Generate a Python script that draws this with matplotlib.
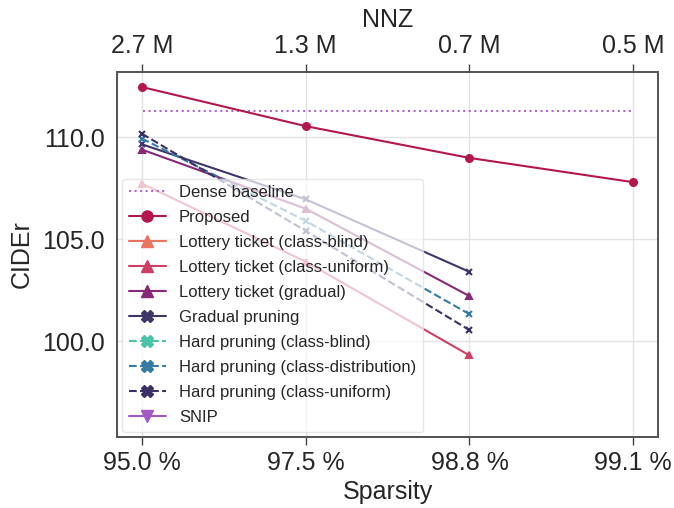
import numpy as np
import matplotlib
matplotlib.use("Agg")
import matplotlib.pyplot as plt
import seaborn as sns
from matplotlib.lines import Line2D

# data
sparsity = ["95.0 %", "97.5 %", "98.8 %", "99.1 %"]
nnz      = ["2.7 M", "1.3 M", "0.7 M", "0.5 M"]

dense_baseline = 111.27
proposed       = [112.47, 110.55, 108.99, 107.8]
lt_blind       = []
lt_uniform     = [107.73, 103.9, 99.30]
lt_gradual     = [109.40, 106.50, 102.21]
gradual        = [109.66, 106.96, 103.40]
hard_blind     = []
hard_dist      = [109.94, 105.90, 101.32]
hard_uniform   = [110.18, 105.41, 100.54]
snip           = []

# name, values, color, linestyle, plot marker, legend marker
series = [
    ("Proposed",                          proposed,     "#b3174b", "-",  "o", "o"),
    ("Lottery ticket (class-blind)",      lt_blind,     "#ea7460", "-",  "^", "^"),
    ("Lottery ticket (class-uniform)",    lt_uniform,   "#cf3e63", "-",  "^", "^"),
    ("Lottery ticket (gradual)",          lt_gradual,   "#862a76", "-",  "^", "^"),
    ("Gradual pruning",                   gradual,      "#3e356b", "-",  "x", "X"),
    ("Hard pruning (class-blind)",        hard_blind,   "#4cc3a8", "--", "x", "X"),
    ("Hard pruning (class-distribution)", hard_dist,    "#357ba3", "--", "x", "X"),
    ("Hard pruning (class-uniform)",      hard_uniform, "#3b2f66", "--", "x", "X"),
    ("SNIP",                              snip,         "#a35bc2", "-",  "v", "v"),
]

sns.set_theme(style="whitegrid")
plt.rcParams['font.family'] = ['Liberation Sans', 'DejaVu Sans']

fig = plt.figure(figsize=(6.74, 5.08), dpi=100)
ax  = fig.add_axes([0.174, 0.140, 0.802, 0.718])

ax.axhline(dense_baseline, xmin=0.047, xmax=0.953, color="#b366cc", ls=":", lw=1.5)
handles = [Line2D([], [], color="#b366cc", ls=":", lw=1.5, label="Dense baseline")]
for name, vals, col, ls, mk, lmk in series:
    if len(vals):
        ax.plot(np.arange(len(vals)), vals, color=col, ls=ls, lw=1.5,
                marker=mk, ms=5, mew=1.5)
    handles.append(Line2D([], [], color=col, ls=ls, lw=1.5, marker=lmk,
                          ms=8, label=name))

ax.set_xlim(-0.15, 3.15)
ax.set_ylim(95.3, 113.2)
ax.set_xticks(range(4))
ax.set_xticklabels(sparsity)
ax.set_yticks([100, 105, 110])
ax.set_yticklabels(["100.0", "105.0", "110.0"])
ax.tick_params(axis="x", labelsize=18, length=6, width=1, color="#444444",
               bottom=True, labelcolor="#262626", pad=4)
ax.tick_params(axis="y", labelsize=18, left=False, length=0,
               labelcolor="#262626", pad=9)
ax.set_xlabel("Sparsity", fontsize=18, labelpad=4)
ax.set_ylabel("CIDEr", fontsize=18, labelpad=6)
ax.grid(color="#e3e3e3", lw=1)

top = ax.twiny()
top.set_xlim(ax.get_xlim())
top.set_xticks(range(4))
top.set_xticklabels(nnz)
top.grid(False)
top.tick_params(labelsize=18, length=6, width=1, color="#444444", top=True,
                labelcolor="#262626", pad=4)
top.set_xlabel("NNZ", fontsize=18, labelpad=5)

for a in (ax, top):
    for s in a.spines.values():
        s.set_color("#555555")
        s.set_linewidth(1.3)

ax.legend(handles=handles, loc="lower left", fontsize=12, framealpha=0.7,
          borderaxespad=0.3, handlelength=2.2, labelspacing=0.6,
          edgecolor="#dddddd")

fig.savefig("out.png", dpi=100)
